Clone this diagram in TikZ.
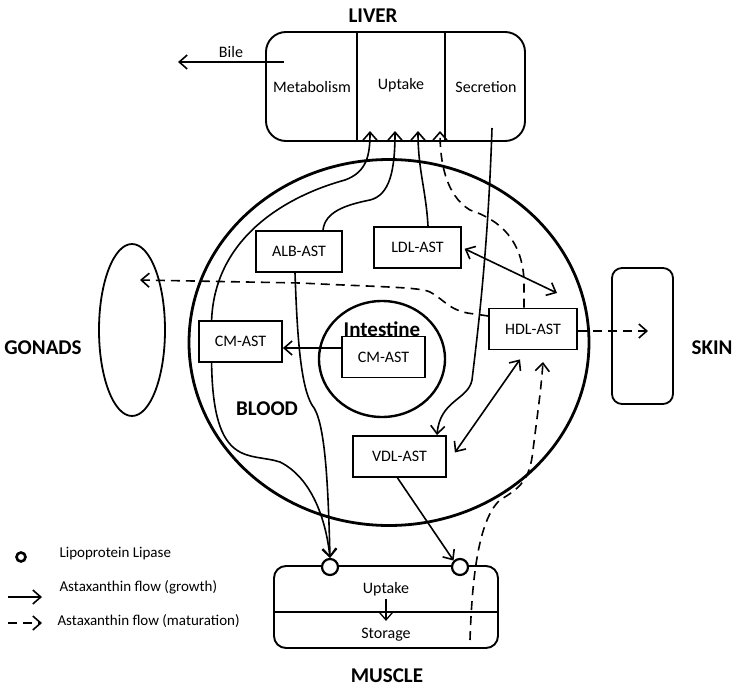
\documentclass[tikz,border=0pt]{standalone}
\usepackage{fontspec}
\setmainfont{Carlito}
\usetikzlibrary{arrows.meta,shapes.geometric}

\begin{document}
\begin{tikzpicture}[x=1pt, y=-1pt,
  box/.style={draw, line width=1.8pt, minimum height=41pt, inner sep=0pt, font=\fontsize{16}{19}\selectfont},
  part/.style={font=\fontsize{16}{19}\selectfont},
  title/.style={font=\fontsize{21}{25}\selectfont\bfseries},
  flow/.style={line width=1.6pt, -{Straight Barb[length=8pt,width=14pt]}},
  matflow/.style={flow, dash pattern=on 9pt off 6pt},
  twoway/.style={line width=1.6pt, {Straight Barb[length=8pt,width=14pt]}-{Straight Barb[length=8pt,width=14pt]}},
  lipase/.style={draw, circle, line width=2.2pt, minimum size=16pt, inner sep=0pt, fill=white},
  legtext/.style={anchor=west, font=\fontsize{15}{18}\selectfont}]
\useasboundingbox (0,0) rectangle (734,688);

\node[title] (livert) at (373,16) {LIVER};
\node[draw, line width=1.9pt, rounded corners=20pt, minimum width=259pt, minimum height=109pt] (liver) at (395.5,86.5) {};
\draw[line width=1.9pt] (357,32) -- (357,141);
\draw[line width=1.9pt] (445,32) -- (445,141);
\node[part] (metab) at (312,87) {Metabolism};
\node[part] (upt) at (401,85) {Uptake};
\node[part] (secr) at (486,87) {Secretion};
\coordinate (u1) at (370,131);
\coordinate (u2) at (395,131);
\coordinate (u3) at (418,131);
\coordinate (u4) at (440,131);
\coordinate (s0) at (492,128);
\coordinate (bile0) at (284,62);
\coordinate (bile1) at (178,62);
\draw[flow] (bile0) -- node[part, above] {Bile} (bile1);

\draw[line width=2.8pt] (389,342.5) ellipse [x radius=200pt, y radius=183pt];
\draw[line width=2.4pt] (382,359) ellipse [x radius=63pt, y radius=58pt];
\node[title] (intt) at (382,329) {Intestine};
\node[title] (bloodt) at (267,409) {BLOOD};

\node[draw, ellipse, line width=1.8pt, minimum width=66pt, minimum height=172pt, inner sep=0pt] (gonads) at (132,330) {};
\node[title] (gonadst) at (43,348) {GONADS};
\node[draw, line width=1.8pt, rounded corners=10pt, minimum width=61pt, minimum height=136pt] (skin) at (642.5,336) {};
\node[title] (skint) at (712,348) {SKIN};
\coordinate (gontip) at (140,280);
\coordinate (skintip) at (648,331);

\node[box, minimum width=86pt] (alb) at (299,251.5) {ALB-AST};
\node[box, minimum width=87pt] (ldl) at (417.5,247.5) {LDL-AST};
\node[box, minimum width=88pt] (hdl) at (533,329) {HDL-AST};
\node[box, minimum width=93pt] (vdl) at (399.5,456.5) {VDL-AST};
\node[box, minimum width=83pt] (cmo) at (240.5,341.5) {CM-AST};
\node[box, minimum width=83pt, fill=white] (cmi) at (383.5,357) {CM-AST};
\coordinate (hdlin) at (557,293);
\coordinate (hdlup) at (543,362);
\coordinate (cmarrow) at ([yshift=9pt]cmi.west);

\node[draw, line width=1.9pt, rounded corners=12pt, minimum width=224pt, minimum height=82pt] (muscle) at (386,607) {};
\draw[line width=1.9pt] (274,612) -- (498,612);
\node[part] (mupt) at (386,589) {Uptake};
\node[part] (mstor) at (386,635) {Storage};
\node[title] (musclet) at (387,676) {MUSCLE};
\coordinate (mstore) at (470,640);

\draw[flow] (cmarrow) -- (cmarrow -| cmo.east);
\draw[flow] ([xshift=13.5pt]cmo.north west) .. controls (215,235) and (290,195) .. (345,180) .. controls (367,172) and (370,155) .. (u1);
\draw[flow] ([xshift=24pt]alb.north) .. controls (325,212) and (345,205) .. (370,200) .. controls (390,195) and (395,170) .. (u2);
\draw[flow] ([xshift=10.5pt]ldl.north) .. controls (426,190) and (418,170) .. (u3);
\draw[matflow] ([xshift=-9pt]hdl.north) -- (524,280) .. controls (522,240) and (500,220) .. (470,210) .. controls (445,195) and (440,160) .. (u4);
\draw[flow] (s0) .. controls (488,250) and (478,330) .. (472,380) .. controls (468,400) and (440,400) .. ([xshift=37.5pt]vdl.north);
\draw[twoway, shorten <=3pt] (ldl.east) -- (hdlin);
\draw[twoway] ([xshift=-13pt,yshift=-9pt]hdl.south) -- ([xshift=8pt,yshift=4pt]vdl.east);
\draw[matflow] ([yshift=13pt]hdl.west) -- (475,314) .. controls (450,312) and (445,300) .. (430,292) .. controls (420,287) and (380,287) .. (300,283) -- (gontip);
\draw[matflow] (hdl.east |- skintip) -- (skintip);
\draw[matflow] (mstore) .. controls (472,580) and (478,520) .. (500,500) .. controls (520,488) and (530,480) .. (533,450) .. controls (538,410) and (541,390) .. (hdlup);

\node[lipase] (lpl1) at (330,567) {};
\node[lipase] (lpl2) at (460,567) {};
\draw[flow] ([xshift=-4pt]alb.south) .. controls (297,330) and (300,385) .. (312,405) .. controls (325,420) and (328,480) .. (lpl1.north);
\draw[flow] ([xshift=13.5pt]cmo.south west) .. controls (213,470) and (250,452) .. (280,462) .. controls (312,478) and (326,520) .. (lpl1.north);
\draw[flow] ([xshift=-2pt]vdl.south) -- (lpl2.north west);
\draw[flow, line width=1.3pt, shorten >=4pt] (mupt.south) -- (mupt.south |- mstor.north);

\node[lipase, line width=2.6pt, minimum size=9pt] (leglpl) at (21,557) {};
\node[legtext] (leglpltext) at (56,554) {Lipoprotein Lipase};
\coordinate (lg1a) at (8,597);
\coordinate (lg1b) at (42,597);
\draw[flow] (lg1a) -- (lg1b);
\node[legtext] (leggrowth) at (56,587) {Astaxanthin flow (growth)};
\coordinate (lg2a) at (8,623);
\coordinate (lg2b) at (42,623);
\draw[matflow] (lg2a) -- (lg2b);
\node[legtext] (legmat) at (54,621) {Astaxanthin flow (maturation)};
\end{tikzpicture}
\end{document}
